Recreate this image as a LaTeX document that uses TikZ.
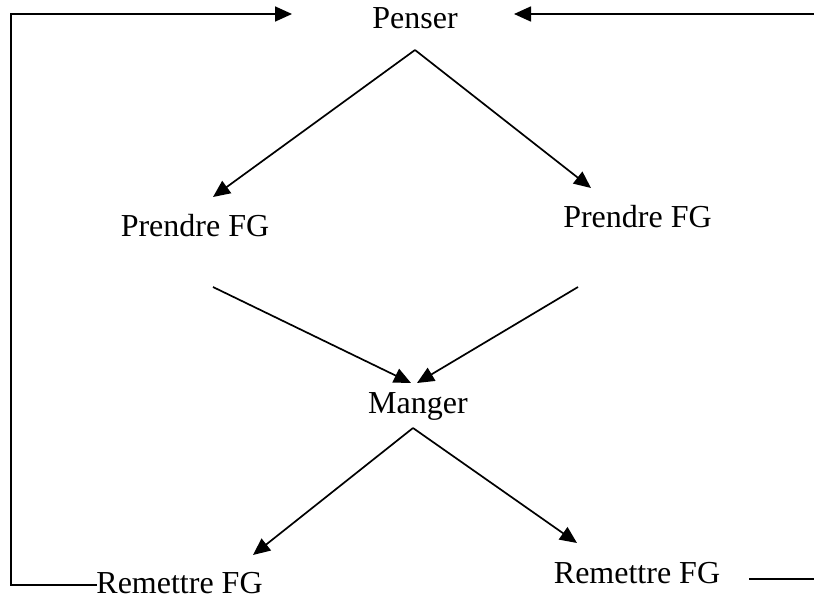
\documentclass[tikz,border=0pt]{standalone}
\usepackage{fontspec}
\setmainfont{Liberation Serif}
\usetikzlibrary{arrows.meta}
\tikzset{
  lbl/.style={anchor=base, inner sep=0pt, font=\fontsize{32}{36}\selectfont},
  conn/.style={line width=1.7pt, -{Triangle[length=17pt 0,width=15pt 0]}},
  plain/.style={line width=1.7pt}
}
\begin{document}
\begin{tikzpicture}[x=1pt,y=-1pt]
\useasboundingbox (0,0) rectangle (814,602);
% labels
\node[lbl] (penser) at (415,29) {Penser};
\node[lbl] (prendreL) at (195,236) {Prendre FG};
\node[lbl] (prendreR) at (637.5,227) {Prendre FG};
\node[lbl] (manger) at (418,413) {Manger};
\node[lbl] (remettreL) at (179.5,593) {Remettre FG};
\node[lbl] (remettreR) at (637,583) {Remettre FG};
% connector points
\coordinate (pTop) at (415,50);
\coordinate (pL) at (213,197);
\coordinate (pR) at (591,188);
\coordinate (mLs) at (213,287);
\coordinate (mRs) at (578,287);
\coordinate (mLe) at (411,383);
\coordinate (mRe) at (417,383);
\coordinate (mTop) at (413,428);
\coordinate (rL) at (253,555);
\coordinate (rR) at (577,543);
\coordinate (loopStart) at (97,585);
\coordinate (loopBL) at (11,585);
\coordinate (loopTL) at (11,14);
\coordinate (loopEnd) at (292,14);
\coordinate (rightStart) at (814,14);
\coordinate (rightEnd) at (514,14);
\coordinate (brS) at (749,579);
\coordinate (brE) at (814,579);
% connectors
\draw[conn] (pTop) -- (pL);
\draw[conn] (pTop) -- (pR);
\draw[conn] (mLs) -- (mLe);
\draw[conn] (mRs) -- (mRe);
\draw[conn] (mTop) -- (rL);
\draw[conn] (mTop) -- (rR);
\draw[conn] (loopStart) -- (loopBL) -- (loopTL) -- (loopEnd);
\draw[conn] (rightStart) -- (rightEnd);
\draw[plain] (brS) -- (brE);
\end{tikzpicture}
\end{document}
